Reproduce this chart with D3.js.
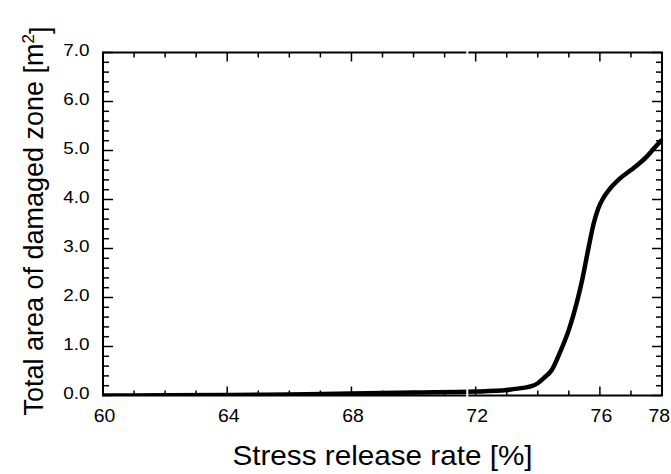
<!DOCTYPE html>
<html>
<head>
<meta charset="utf-8">
<script src="https://d3js.org/d3.v7.min.js"></script>
<style>
  body { margin: 0; background: #fff; }
  text { font-family: "Liberation Sans", Arial, sans-serif; fill: #000; }
</style>
</head>
<body>
<div id="chart"></div>
<script>
// Data
var rate = [60, 62, 64, 66, 68, 70, 72, 73, 73.2, 73.8, 74.0, 74.2, 74.45, 74.7, 75.0, 75.25,
            75.45, 75.62, 75.8, 75.95, 76.1, 76.3, 76.65, 77.0, 77.2, 77.5, 77.75, 78.0];
var area = [0.0, 0.005, 0.01, 0.02, 0.04, 0.06, 0.08, 0.11, 0.13, 0.19, 0.25, 0.36, 0.52, 0.86, 1.34, 1.88,
            2.42, 2.97, 3.51, 3.82, 4.02, 4.2, 4.43, 4.6, 4.70, 4.87, 5.05, 5.22];
var xTickLabels = [60, 64, 68, 72, 76, 78];
var yTickLabels = [0, 1, 2, 3, 4, 5, 6, 7];
var breakAt = 71.73;

var data = rate.map(function(r, i) { return {rate: r, area: area[i]}; });

// Set the dimensions of the canvas
var margin = {top: 52.5, right: 9, bottom: 78.5, left: 103},
    width = 671 - margin.left - margin.right,
    height = 474 - margin.top - margin.bottom;

var x = d3.scaleLinear().domain([60, 78]).range([0, width]);
var y = d3.scaleLinear().domain([0, 7]).range([height, 0]);

var svg = d3.select("#chart")
    .append("svg")
        .attr("width", 671)
        .attr("height", 474)
    .append("g")
        .attr("transform", `translate(${margin.left},${margin.top})`);

svg.append("clipPath").attr("id", "clip")
    .append("rect").attr("width", width).attr("height", height + 3).attr("y", -3);

// The curve
var line = d3.line()
    .x(function(d) { return x(d.rate); })
    .y(function(d) { return y(d.area); })
    .curve(d3.curveMonotoneX);

svg.append("path")
    .datum(data)
    .attr("clip-path", "url(#clip)")
    .attr("fill", "none")
    .attr("stroke", "#000")
    .attr("stroke-width", 4.5)
    .attr("stroke-linejoin", "round")
    .attr("d", line);

// Ticks, inward on all four sides
var xMinor = d3.range(60, 78.01, 1);
var yMinor = d3.range(0, 7.01, 0.2);
function isXMajor(v) { return xTickLabels.indexOf(v) >= 0; }
function isYMajor(v) { return Math.abs(v - Math.round(v)) < 1e-6; }

var ticks = svg.append("g").attr("stroke", "#000").attr("stroke-width", 1.5);
xMinor.forEach(function(v) {
    var len = isXMajor(v) ? 9 : 5;
    ticks.append("line").attr("x1", x(v)).attr("x2", x(v))
        .attr("y1", height).attr("y2", height - len);
    ticks.append("line").attr("x1", x(v)).attr("x2", x(v))
        .attr("y1", 0).attr("y2", len);
});
yMinor.forEach(function(v) {
    var len = isYMajor(v) ? 10 : 6;
    ticks.append("line").attr("y1", y(v)).attr("y2", y(v))
        .attr("x1", 0).attr("x2", len);
    ticks.append("line").attr("y1", y(v)).attr("y2", y(v))
        .attr("x1", width).attr("x2", width - len);
});

// Frame
svg.append("rect")
    .attr("width", width)
    .attr("height", height)
    .attr("fill", "none")
    .attr("stroke", "#000")
    .attr("stroke-width", 2);

// Axis break (thin white gap through the plot)
svg.append("rect")
    .attr("x", x(breakAt) - 1)
    .attr("y", -6)
    .attr("width", 2)
    .attr("height", height + 12)
    .attr("fill", "#fff");

// Tick labels (the source font is a bit wider than Liberation Sans)
var last = xTickLabels[xTickLabels.length - 1];
svg.selectAll(".xlab")
    .data(xTickLabels)
    .enter().append("text")
    .attr("transform", function(d) {
        var px = d === last ? 671 - margin.left - 1 : x(d) + 1.5;
        return "translate(" + px + "," + (height + 26.5) + ") scale(1.08,1)";
    })
    .attr("text-anchor", function(d) { return d === last ? "end" : "middle"; })
    .style("font-size", "18px")
    .text(function(d) { return d; });

svg.selectAll(".ylab")
    .data(yTickLabels)
    .enter().append("text")
    .attr("transform", function(d) {
        return "translate(-13.5," + (y(d) - 2) + ") scale(1.18,1)";
    })
    .attr("dy", "0.36em")
    .attr("text-anchor", "end")
    .style("font-size", "16px")
    .text(function(d) { return d.toFixed(1); });

// Axis titles
svg.append("text")
    .attr("transform", "translate(" + (382.5 - margin.left) + "," + (height + 69.5) + ") scale(1.06,1)")
    .attr("text-anchor", "middle")
    .style("font-size", "28px")
    .text("Stress release rate [%]");

var yTitle = svg.append("text")
    .attr("transform", "translate(" + (43 - margin.left) + "," + (221 - margin.top) + ") rotate(-90)")
    .attr("text-anchor", "middle")
    .style("font-size", "27px");
yTitle.append("tspan").text("Total area of damaged zone [m");
yTitle.append("tspan").attr("dy", "-0.55em").style("font-size", "17px").text("2");
yTitle.append("tspan").attr("dy", "0.55em").text("]");
</script>
</body>
</html>
